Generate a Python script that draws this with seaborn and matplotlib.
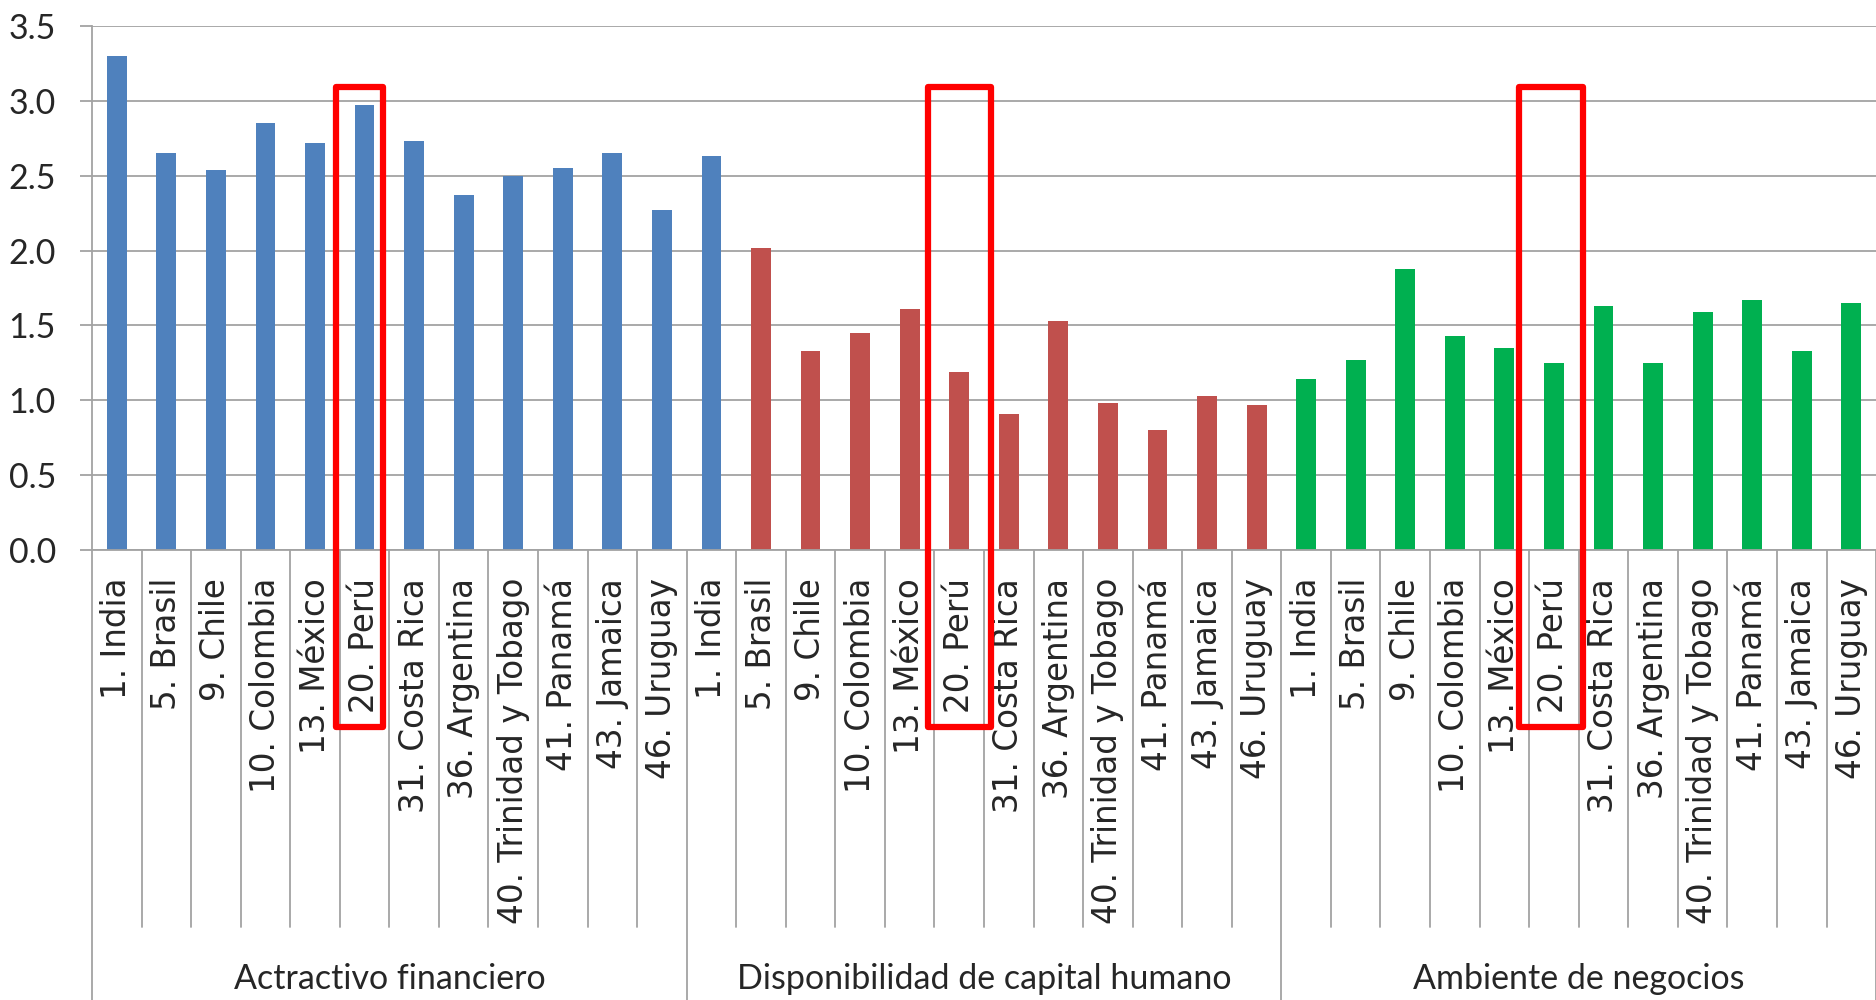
import pandas as pd
import matplotlib.pyplot as plt
import matplotlib.transforms as mtransforms
from matplotlib.patches import Rectangle
import seaborn as sns

OUT_PATH = "out.png"

# country order is the same in every block
paises = [
    "1. India", "5. Brasil", "9. Chile", "10. Colombia", "13. México", "20. Perú",
    "31. Costa Rica", "36. Argentina", "40. Trinidad y Tobago", "41. Panamá",
    "43. Jamaica", "46. Uruguay",
]
grupos = ["Actractivo financiero", "Disponibilidad de capital humano", "Ambiente de negocios"]

atractivo = [3.30, 2.65, 2.54, 2.85, 2.72, 2.97, 2.73, 2.37, 2.50, 2.55, 2.65, 2.27]
capital = [2.63, 2.02, 1.33, 1.45, 1.61, 1.19, 0.91, 1.53, 0.98, 0.80, 1.03, 0.97]
negocios = [1.14, 1.27, 1.88, 1.43, 1.35, 1.25, 1.63, 1.25, 1.59, 1.67, 1.33, 1.65]

# in the source sheet the first series spills one bar into the second block
n_barras_serie = [13, 11, 12]

colores = {
    "Actractivo financiero": "#4F81BD",
    "Disponibilidad de capital humano": "#C0504D",
    "Ambiente de negocios": "#00B050",
}
GRIS = "#A3A3A3"


def build_df():
    valores = atractivo + capital + negocios
    serie = []
    for g, n in zip(grupos, n_barras_serie):
        serie += [g] * n
    df = pd.DataFrame({
        "pos": range(len(valores)),
        "pais": paises * len(grupos),
        "valor": valores,
        "serie": serie,
    })
    return df


def main():
    df = build_df()

    sns.set_theme(style="white")
    plt.rcParams["font.family"] = ["Lato", "DejaVu Sans"]

    fig = plt.figure(figsize=(18.76, 10), dpi=100)
    ax = fig.add_axes([0.04904, 0.45, 0.951, 0.524])

    sns.barplot(data=df, x="pos", y="valor", hue="serie", palette=colores,
                dodge=False, width=0.4, saturation=1, linewidth=0,
                legend=False, ax=ax)

    n = len(df)
    ax.set_xlim(-0.5, n - 0.5)
    ax.set_ylim(0, 3.5)
    ax.set_yticks([0, 0.5, 1.0, 1.5, 2.0, 2.5, 3.0, 3.5])
    ax.set_yticklabels([f"{v:.1f}" for v in ax.get_yticks()], fontsize=24.5)
    ax.set_xticks(range(n))
    ax.set_xticklabels(df["pais"], rotation=90, fontsize=23.5, family="DejaVu Sans")
    ax.set_xlabel("")
    ax.set_ylabel("")

    ax.yaxis.grid(True, color=GRIS, linewidth=1.3)
    ax.set_axisbelow(True)
    ax.tick_params(axis="y", direction="out", length=9, width=1.3, color=GRIS, pad=17, left=True)
    ax.tick_params(axis="x", length=0, pad=20, bottom=True)
    for side in ["top", "right"]:
        ax.spines[side].set_visible(False)
    for side in ["left", "bottom"]:
        ax.spines[side].set_color(GRIS)
        ax.spines[side].set_linewidth(1.3)

    # two-level category axis drawn by hand
    trans = mtransforms.blended_transform_factory(ax.transData, ax.transAxes)
    for i in range(n + 1):
        x = i - 0.5
        bottom = -0.859 if i % len(paises) == 0 else -0.7195
        ax.plot([x, x], [0, bottom], color=GRIS, lw=1.3, transform=trans, clip_on=False)
    for k, g in enumerate(grupos):
        xc = k * len(paises) + (len(paises) - 1) / 2
        ax.text(xc, -0.8378, g, transform=trans, ha="center", va="baseline", fontsize=24.5)

    # red boxes around Perú in every block
    idx_peru = paises.index("20. Perú")
    recuadros = [(-0.58, 0.38), (-0.64, 0.64), (-0.70, 0.59)]
    for k, (dl, dr) in enumerate(recuadros):
        xc = k * len(paises) + idx_peru
        rect = Rectangle((xc + dl, -1.182), dr - dl, 3.093 + 1.182, fill=False,
                         edgecolor="#FF0000", linewidth=4.5, joinstyle="round",
                         clip_on=False, zorder=5)
        ax.add_patch(rect)

    fig.savefig(OUT_PATH, dpi=100)
    plt.close(fig)


if __name__ == "__main__":
    main()
